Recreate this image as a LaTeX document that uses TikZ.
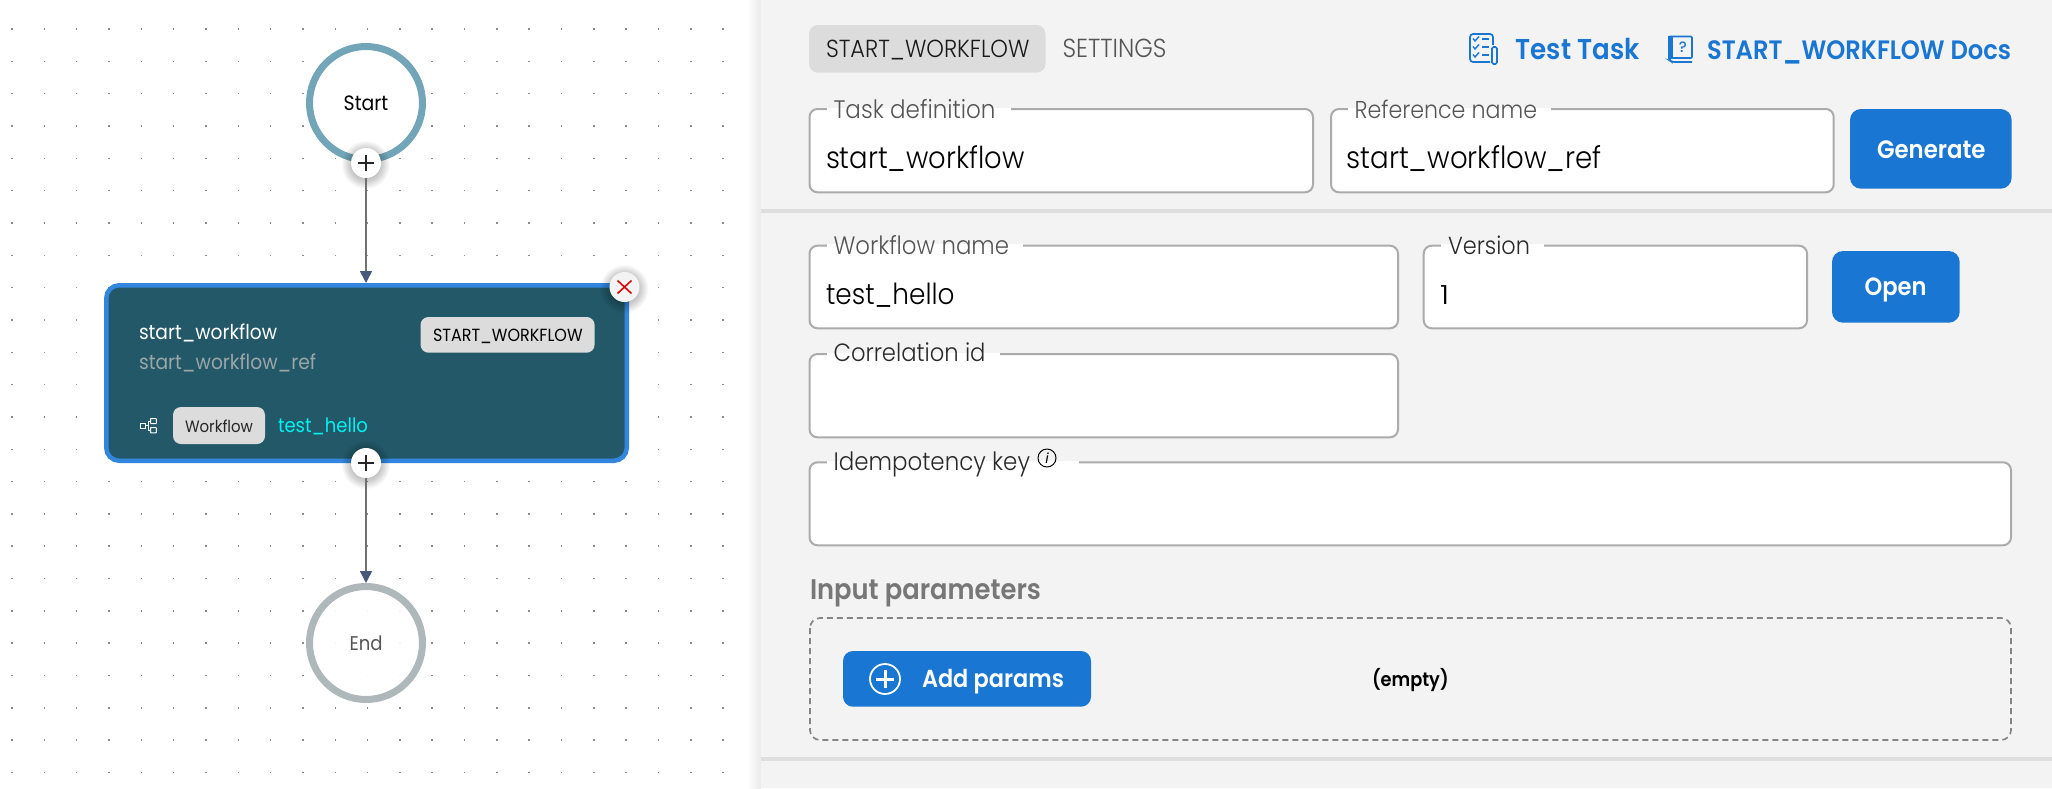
\documentclass[tikz,border=0pt]{standalone}
\usepackage{graphicx}
\usepackage{fontspec}
\setmainfont{Poppins}
\newfontfamily\lightf{Poppins Light}
\newfontfamily\medf{Poppins Medium}
\newfontfamily\semif{Poppins SemiBold}
\usetikzlibrary{arrows.meta,shadings}
\definecolor{panelbg}{HTML}{F3F3F3}
\definecolor{divc}{HTML}{DEDEDE}
\definecolor{boxline}{HTML}{ABABAB}
\definecolor{uiblue}{HTML}{1976D2}
\definecolor{nodefill}{HTML}{225868}
\definecolor{nodeline}{HTML}{3386DD}
\definecolor{startc}{HTML}{72A5B8}
\definecolor{endc}{HTML}{AEB8BB}
\definecolor{pillc}{HTML}{DCDCDC}
\definecolor{arrowc}{HTML}{475878}
\definecolor{shaftc}{HTML}{707070}
\definecolor{dotc}{HTML}{8A8A8A}
\definecolor{lblc}{HTML}{555555}
\definecolor{lbld}{HTML}{2A2A2A}
\definecolor{cyanc}{HTML}{00F2F2}
\definecolor{refc}{HTML}{9AA6A8}
\definecolor{secc}{HTML}{777777}
\newcommand\tw[2]{\scalebox{1}[1.1]{\resizebox{#1pt}{!}{#2}}}
\tikzset{
  txt/.style={inner sep=0pt,outer sep=0pt,anchor=base west},
  ring/.style={circle,draw,line width=7pt,minimum size=113pt,fill=white,inner sep=0pt,text opacity=1},
  fieldbox/.style={draw=boxline,line width=2pt,fill=white,rounded corners=8pt},
  notch/.style={fill=white,draw=none,inner sep=0pt,outer sep=0pt},
  btn/.style={fill=uiblue,draw=none,rounded corners=11pt},
  pill/.style={fill=pillc,rounded corners=8pt},
  roundbtn/.style={circle,fill=white,draw=none,minimum size=30pt,inner sep=0pt},
  conn/.style={draw=shaftc,line width=1.6pt,-{Triangle[width=12pt,length=12pt,color=arrowc,fill=arrowc]},shorten >=0pt},
  iconb/.style={draw=uiblue,line width=1.7pt},
  iconw/.style={draw=white,line width=1pt},
  softshadow/.style={fill=black,fill opacity=0.022,draw=none}
}
\begin{document}
\begin{tikzpicture}[x=1pt,y=-1pt]
\useasboundingbox (0,0) rectangle (2052,788);
\fill[white] (0,0) rectangle (2052,788);
% dot grid
\foreach \i in {0,...,23}{\foreach \j in {0,...,23}{
  \fill[dotc] ({12+32.33*\i-0.8},{29+32.33*\j-0.8}) rectangle ++(1.6,1.6);
}}
% panel
\shade[left color=white,right color=black!8] (747,0) rectangle (761,788);
\fill[panelbg] (761,0) rectangle (2052,788);
\fill[divc] (761,209) rectangle (2052,212.7);
\fill[divc] (761,757) rectangle (2052,760.7);
% flow nodes
\node[ring,draw=startc,text=black] (start) at (366,103) {\raisebox{-1.5pt}{\tw{44.6}{Start}}};
\node[ring,draw=endc,text=lblc,fill opacity=0.93] (end) at (366,643) {\raisebox{-1.5pt}{\tw{33}{End}}};
\node[draw=nodeline,fill=nodefill,line width=4.5pt,rounded corners=13pt,minimum width=520.5pt,minimum height=175.5pt,inner sep=0pt] (task) at (366.5,373) {};
\node[txt,text=white] (tname) at (139,339) {\tw{138}{start\_workflow}};
\node[txt,text=refc] (tref) at (139,369) {\tw{177}{start\_workflow\_ref}};
\fill[pill] (420.5,317) rectangle (594.6,352.7);
\node[txt,text=black] (ttype) at (433,341) {\tw{149.6}{START\_WORKFLOW}};
\fill[pill] (173,407) rectangle (265,444);
\node[txt,text=black!85] (wfl) at (185,432) {\tw{68}{Workflow}};
\node[txt,text=cyanc] (wfn) at (278,432) {\tw{90}{test\_hello}};
% workflow icon
\draw[iconw] (140.5,423) rectangle (145.5,428.5);
\draw[iconw,rounded corners=0.5pt] (150.5,418.5) rectangle (156.3,423.5);
\draw[iconw,rounded corners=0.5pt] (150.5,427.5) rectangle (156.3,432.8);
\draw[iconw] (145.5,425.7) -- (148,425.7) (150.5,421) -- (148,421) -- (148,430) -- (150.5,430);
% round buttons with shadow
\foreach \c in {(366,163),(366,463),(624.5,287)}{
  \foreach \r in {15,16,...,24}{\fill[softshadow] \c ++(0,2) circle (\r);}
}
\node[roundbtn] (plusa) at (366,163) {};
\node[roundbtn] (plusb) at (366,463) {};
\node[roundbtn,fill=panelbg] (close) at (624.5,287) {};
\draw[line width=1.5pt,draw=black!85] (358,163) -- (374,163) (366,155) -- (366,171);
\draw[line width=1.5pt,draw=black!85] (358,463) -- (374,463) (366,455) -- (366,471);
\draw[line width=1.6pt,draw=red!80!black!95] (617.5,280.5) -- (631.5,293.5) (631.5,280.5) -- (617.5,293.5);
% connectors
\draw[conn] (plusa) -- (task.north -| plusa);
\draw[conn] (plusb) -- (end);
% tab
\fill[pillc,rounded corners=9pt] (809,25) rectangle (1045.5,72.7);
\node[txt,text=black!90] (tab1) at (826,57) {\tw{203.5}{\lightf START\_WORKFLOW}};
\node[txt,text=lblc] (tab2) at (1062.5,57) {\tw{104}{\lightf SETTINGS}};
% task icon
\draw[iconb,rounded corners=3pt] (1493,45) -- (1493,34) -- (1470,34) -- (1470,62) -- (1490,62);
\draw[iconb,line width=1.4pt] (1473,38.5) -- (1475,41) -- (1479,36.5) (1473,46.5) -- (1475,49) -- (1479,44.5) (1473,54.5) -- (1475,57) -- (1479,52.5);
\draw[iconb] (1482,39) -- (1489,39) (1482,47) -- (1489,47) (1482,55) -- (1489,55);
\draw[iconb,rounded corners=1.5pt] (1492,47) rectangle (1497,64);
\node[txt,text=uiblue] (ttask) at (1515.6,59.7) {\tw{124}{\semif Test Task}};
% book icon
\draw[iconb,rounded corners=1pt] (1669,36.5) rectangle (1692,58);
\fill[uiblue] (1668,36) rectangle (1673,59);
\draw[iconb,rounded corners=2pt] (1692,62) -- (1672,62) -- (1669,60) -- (1669,57);
\node[inner sep=0pt,text=uiblue] (qm) at (1683,47) {\fontsize{15}{15}\medf ?};
\node[txt,text=uiblue] (tdocs) at (1707,59) {\tw{304}{\semif START\_WORKFLOW Docs}};
% field boxes
\draw[fieldbox] (809.5,109) rectangle (1313,192.3);
\fill[notch] (827,107.5) rectangle (1011,110.5);
\node[txt,text=lblc] (ltask) at (833.5,118) {\tw{162}{\lightf Task definition}};
\node[txt,text=black] (vtask) at (826,168.5) {\tw{198.6}{\lightf start\_workflow}};
\draw[fieldbox] (1331,109) rectangle (1833.7,192.3);
\fill[notch] (1348,107.5) rectangle (1551,110.5);
\node[txt,text=lblc] (lref) at (1354.5,118) {\tw{182.5}{\lightf Reference name}};
\node[txt,text=black] (vref) at (1346.4,168.5) {\tw{255}{\lightf start\_workflow\_ref}};
\fill[btn] (1850,109) rectangle (2011.6,188.7);
\node[txt,text=white] (bgen) at (1877,158) {\tw{108.5}{\semif Generate}};
\draw[fieldbox] (809.5,245.7) rectangle (1398,328.3);
\fill[notch] (827,244) rectangle (1023,247.5);
\node[txt,text=lblc] (lwf) at (833.5,254.3) {\tw{175.5}{\lightf Workflow name}};
\node[txt,text=black] (vwf) at (826,304.2) {\tw{128.5}{\lightf test\_hello}};
\draw[fieldbox] (1423.7,245.7) rectangle (1807,328.3);
\fill[notch] (1440.7,244) rectangle (1543.5,247.5);
\node[txt,text=lbld] (lver) at (1448,254.3) {\tw{82}{\lightf Version}};
\node[txt,text=black] (vver) at (1440,304.2) {\scalebox{1.3}[1.1]{\fontsize{24}{24}\lightf 1}};
\fill[btn] (1832,251) rectangle (1959.7,322.7);
\node[txt,text=white] (bopen) at (1864.5,295.5) {\tw{62}{\semif Open}};
\draw[fieldbox] (809.5,354) rectangle (1398,437.3);
\fill[notch] (827,352.5) rectangle (1000,356);
\node[txt,text=lbld] (lcor) at (833.5,361.5) {\tw{152}{\lightf Correlation id}};
\draw[fieldbox] (809.5,462.3) rectangle (2011,545.3);
\fill[notch] (827,460.5) rectangle (1079,464);
\node[txt,text=lbld] (lidem) at (833.5,470.5) {\tw{196.5}{\lightf Idempotency key}};
\node[circle,draw=black,line width=1pt,minimum size=18pt,inner sep=0pt] (info) at (1047,458) {\fontsize{14}{14}\itshape i};
% input parameters
\node[txt,text=secc] (linp) at (810,599.5) {\tw{231}{\semif Input parameters}};
\draw[draw=secc!90,line width=1.7pt,dash pattern=on 6pt off 4pt,rounded corners=10pt] (810,618) rectangle (2011,740);
\fill[btn,rounded corners=10pt] (843,651) rectangle (1091,706.7);
\node[circle,draw=white,line width=1.8pt,minimum size=30pt,inner sep=0pt] (addi) at (885,679) {};
\draw[white,line width=3pt] (876,679) -- (894,679) (885,670) -- (885,688);
\node[txt,text=white] (badd) at (922,687.5) {\tw{142}{\semif Add params}};
\node[txt,text=black] (tempty) at (1372,686) {\tw{76.6}{\semif (empty)}};
\end{tikzpicture}
\end{document}
